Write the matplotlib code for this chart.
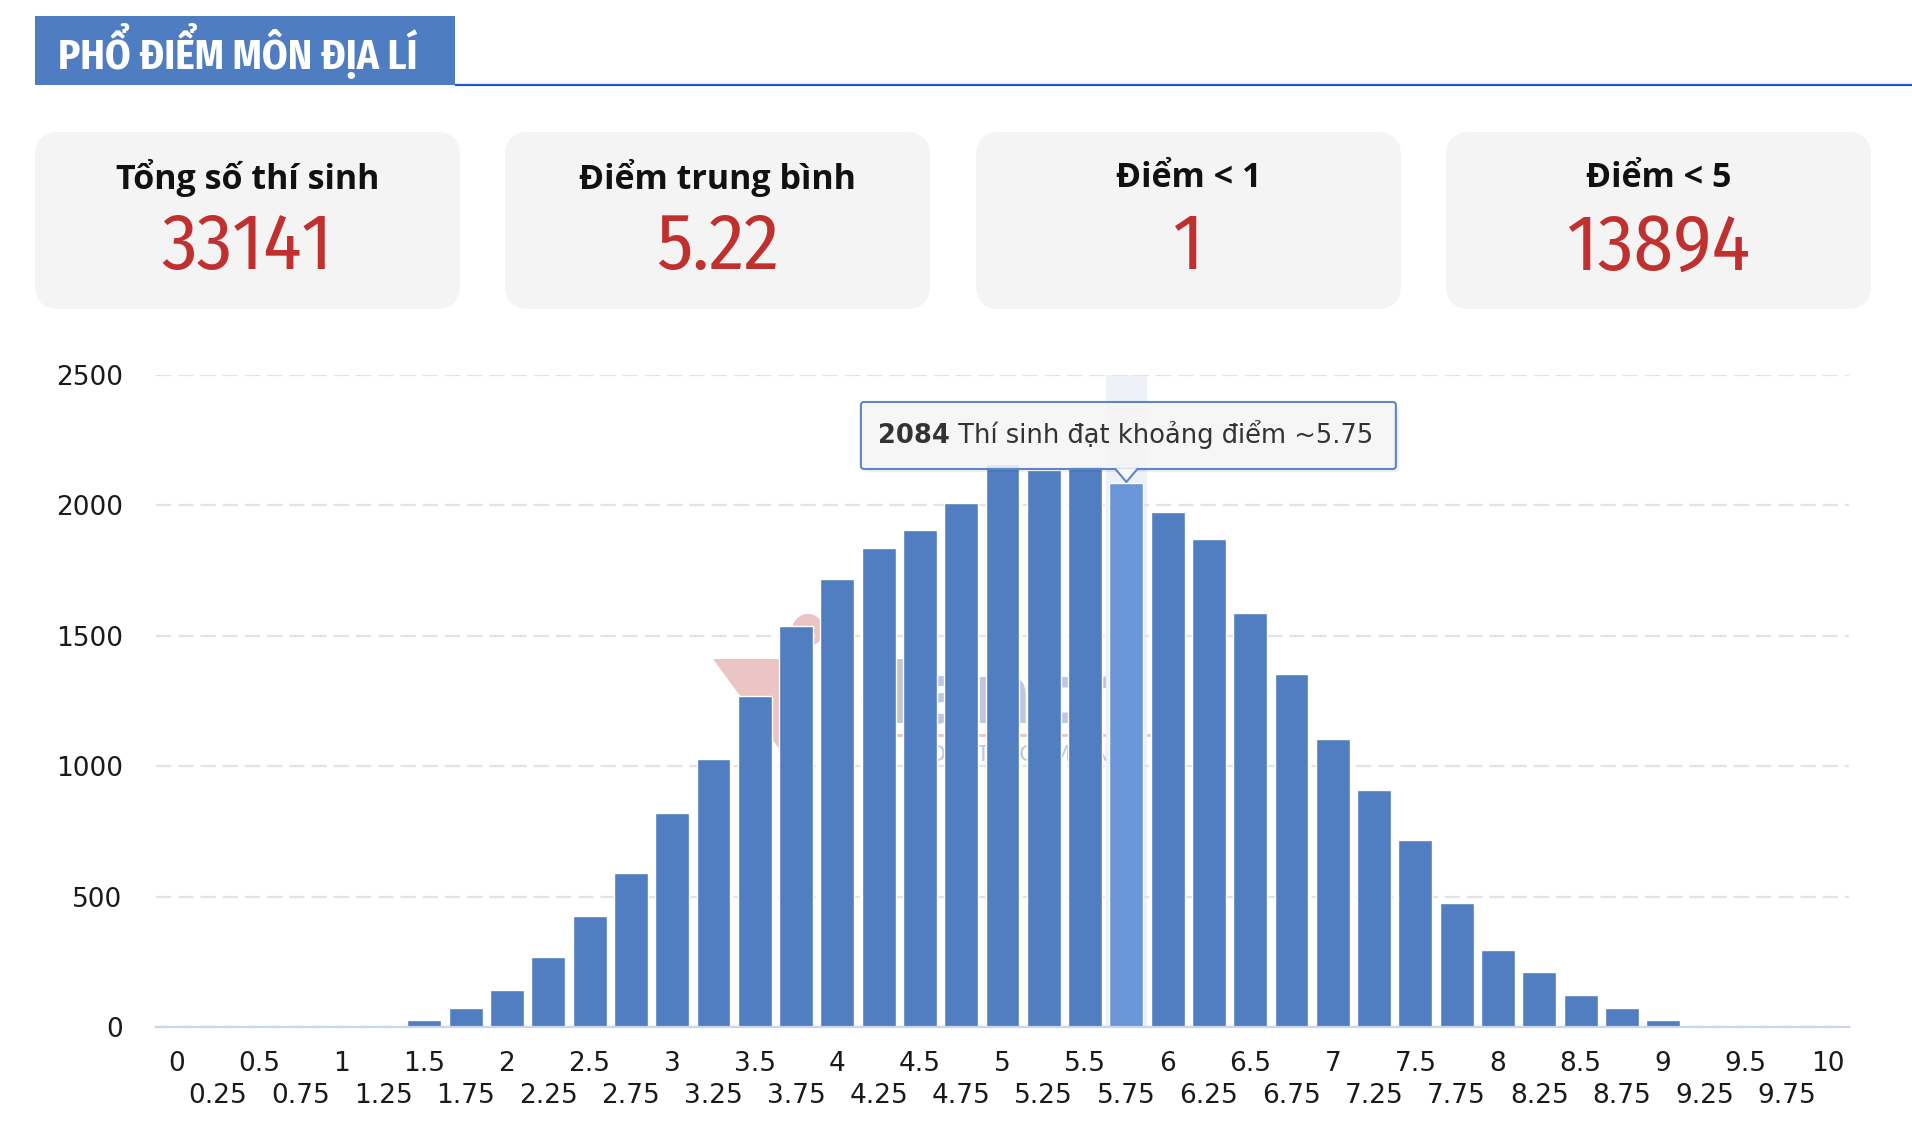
import matplotlib
matplotlib.use("Agg")
import matplotlib.pyplot as plt
from matplotlib.patches import FancyBboxPatch, Rectangle, Polygon, Circle
from matplotlib import font_manager

# ---------------- data ----------------
score_labels = ["0", "0.25", "0.5", "0.75", "1", "1.25", "1.5", "1.75", "2", "2.25",
                "2.5", "2.75", "3", "3.25", "3.5", "3.75", "4", "4.25", "4.5", "4.75",
                "5", "5.25", "5.5", "5.75", "6", "6.25", "6.5", "6.75", "7", "7.25",
                "7.5", "7.75", "8", "8.25", "8.5", "8.75", "9", "9.25", "9.5", "9.75", "10"]
counts = [0, 0, 0, 1, 1, 3, 28, 71, 140, 270,
          425, 590, 822, 1028, 1268, 1536, 1716, 1838, 1905, 2008,
          2160, 2135, 2152, 2084, 1976, 1872, 1588, 1355, 1105, 907,
          718, 477, 296, 210, 122, 71, 28, 0, 0, 0, 0]
y_ticks = [0, 500, 1000, 1500, 2000, 2500]

title = "PHỔ ĐIỂM MÔN ĐỊA LÍ"
stat_labels = ["Tổng số thí sinh", "Điểm trung bình", "Điểm < 1", "Điểm < 5"]
stat_values = ["33141", "5.22", "1", "13894"]

highlight_label = "5.75"
tooltip_rest = " Thí sinh đạt khoảng điểm ~"

# ---------------- style ----------------
W, H = 1912, 1139
BAR = "#517ec0"
BAR_HI = "#6a96d8"
RED = "#c0302f"

available = {f.name for f in font_manager.fontManager.ttflist}
def pick(*names):
    for n in names:
        if n in available:
            return n
    return "DejaVu Sans"

TITLE_FONT = pick("Fira Sans Condensed", "Open Sans Condensed", "Roboto")
NUM_FONT = pick("Fira Sans Condensed", "IBM Plex Sans Condensed", "Roboto")
LABEL_FONT = pick("Open Sans", "Noto Sans")
TICK_FONT = "DejaVu Sans"

plt.rcParams["lines.scale_dashes"] = False

fig = plt.figure(figsize=(W / 100, H / 100), dpi=100)

# background pixel axes (top-left origin)
bg = fig.add_axes([0, 0, 1, 1], zorder=0)
bg.set_xlim(0, W)
bg.set_ylim(H, 0)
bg.axis("off")

# header tab + line
bg.add_patch(Rectangle((35, 16), 420, 69, facecolor="#4f7dc2", edgecolor="none"))
bg.plot([455, W], [85, 85], color="#1f5bc5", lw=1.6, solid_capstyle="butt")
bg.text(58, 51, title, color="white", fontsize=29.5, fontweight="bold",
        family=[TITLE_FONT, "DejaVu Sans"], va="center", ha="left")

# stat cards
card_x = [35, 505, 976, 1446]
card_w, card_y, card_h, r = 425, 132, 177, 24
for cx, lab, val in zip(card_x, stat_labels, stat_values):
    bg.add_patch(FancyBboxPatch((cx + r, card_y + r), card_w - 2 * r, card_h - 2 * r,
                                boxstyle=f"round,pad={r}", facecolor="#f4f4f4",
                                edgecolor="none"))
    bg.text(cx + card_w / 2, 178, lab, fontsize=24.5, fontweight="bold", color="#111111",
            family=[LABEL_FONT, "DejaVu Sans"], ha="center", va="center")
    bg.text(cx + card_w / 2, 248, val, fontsize=57, fontweight="normal", color=RED,
            family=[NUM_FONT, "DejaVu Sans"], ha="center", va="center")

# faint watermark behind bars
bg.add_patch(Polygon([[713, 659], [805, 659], [780, 750]], closed=True,
                     facecolor="#ebc4c4", edgecolor="none"))
bg.add_patch(Circle((808, 630), 16, facecolor="#ebc4c4", edgecolor="none"))
bg.text(1000, 700, "dantri", fontsize=60, fontweight="bold", color="#c3c5da",
        ha="center", va="center", family="DejaVu Sans")
bg.plot([897, 1150], [735, 735], color="#ebc4c4", lw=2)
bg.text(1020, 755, "DANTRI.COM.VN", fontsize=16, color="#c3c5da",
        ha="center", va="center", family="DejaVu Sans")

# ---------------- chart ----------------
ax = fig.add_axes([156 / W, (H - 1027) / H, (1849 - 156) / W, (1027 - 375) / H], zorder=1)
ax.patch.set_alpha(0)
x = list(range(len(score_labels)))
hi = score_labels.index(highlight_label)
colors = [BAR_HI if s == highlight_label else BAR for s in score_labels]

ax.axvspan(hi - 0.5, hi + 0.5, color="#eef1f8", zorder=0.5, lw=0)
ax.bar(x, counts, width=0.82, color=colors, edgecolor="white", linewidth=1.0, zorder=2)

ax.set_xlim(-0.5, len(score_labels) - 0.5)
ax.set_ylim(0, 2500)
ax.set_yticks(y_ticks)
ax.set_yticklabels([str(v) for v in y_ticks])
ax.yaxis.grid(True, linestyle=(0, (11, 5)), color="#e3e3e3", linewidth=1.6, zorder=0)
ax.set_axisbelow(True)
for s in ["top", "right", "left"]:
    ax.spines[s].set_visible(False)
ax.spines["bottom"].set_color("#ccd6eb")
ax.spines["bottom"].set_linewidth(1.6)
ax.spines["bottom"].set_zorder(3)

ax.tick_params(axis="y", length=0, pad=24, labelsize=19, labelcolor="#1a1a1a")
for t in ax.get_yticklabels():
    t.set_family(TICK_FONT)

major = x[0::2]
minor = x[1::2]
ax.set_xticks(major)
ax.set_xticklabels([score_labels[i] for i in major])
ax.set_xticks(minor, minor=True)
ax.set_xticklabels([score_labels[i] for i in minor], minor=True)
ax.tick_params(axis="x", which="major", length=0, pad=17, labelsize=19, labelcolor="#1a1a1a")
ax.tick_params(axis="x", which="minor", length=0, pad=40, labelsize=19, labelcolor="#1a1a1a")
for t in ax.get_xticklabels() + ax.get_xticklabels(minor=True):
    t.set_family(TICK_FONT)

# ---------------- tooltip ----------------
ov = fig.add_axes([0, 0, 1, 1], zorder=3)
ov.set_xlim(0, W)
ov.set_ylim(H, 0)
ov.axis("off")

px, py = ax.transData.transform((hi, counts[hi]))
tip_x = px
tip_y = H - py - 1.5
box_w, box_h = 535, 67
box_bottom = tip_y - 13
box_left = tip_x - box_w / 2 + 2
box_top = box_bottom - box_h
# shadow
ov.add_patch(FancyBboxPatch((box_left + 3, box_top + 3), box_w, box_h,
                            boxstyle="round,pad=0,rounding_size=3",
                            facecolor=(0, 0, 0, 0.06), edgecolor="none"))
ov.add_patch(FancyBboxPatch((box_left, box_top), box_w, box_h,
                            boxstyle="round,pad=0,rounding_size=3",
                            facecolor=(0.97, 0.97, 0.97, 0.88), edgecolor="#5b87c8",
                            linewidth=1.5))
ov.add_patch(Polygon([[tip_x - 11, box_bottom - 0.8], [tip_x + 11, box_bottom - 0.8],
                      [tip_x, tip_y]], closed=True,
                     facecolor=(0.97, 0.97, 0.97, 1), edgecolor="none"))
ov.plot([tip_x - 11, tip_x, tip_x + 11], [box_bottom, tip_y, box_bottom],
        color="#5b87c8", lw=1.5)
t1 = ov.text(box_left + 17, box_top + box_h / 2 + 1, str(counts[hi]), fontsize=18.5,
             fontweight="bold", color="#333333", family=TICK_FONT, ha="left", va="center")
ov.annotate(tooltip_rest + highlight_label, xy=(1, 0), xycoords=t1, fontsize=18.5,
            color="#333333", family=TICK_FONT, ha="left", va="bottom")

fig.savefig("out.png", dpi=100)
